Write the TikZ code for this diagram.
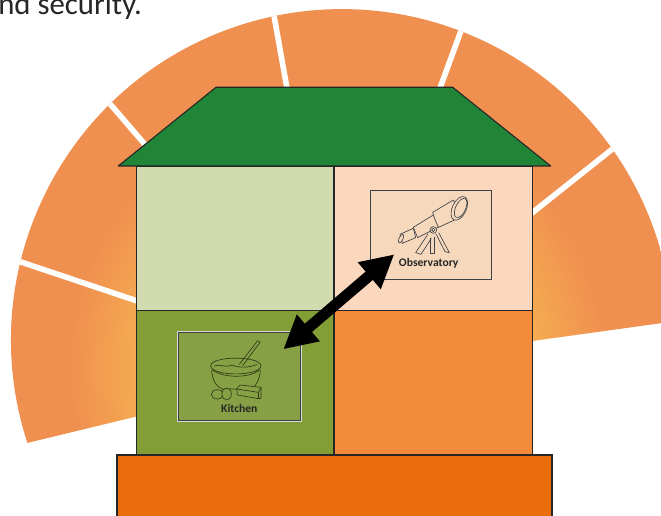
\documentclass[tikz,border=0pt]{standalone}
\usepackage{fontspec}
\setmainfont{Carlito}
\usetikzlibrary{arrows.meta}
\definecolor{fanInner}{HTML}{F5B450}
\definecolor{fanMid}{HTML}{F4AB50}
\definecolor{fanOuter}{HTML}{EF8F50}
\pgfdeclareradialshading{fanShade}{\pgfpoint{0bp}{0bp}}{color(0bp)=(fanInner); color(12.5bp)=(fanMid); color(16.875bp)=(fanOuter); color(50bp)=(fanOuter)}
\tikzset{
  wallLine/.style={draw=black!85,line width=1.1pt},
  gapLine/.style={draw=white,line width=5.6pt},
  iconLine/.style={draw=drawColor,line width=0.65pt,line join=round},
  boxLabel/.style={text=black!85,anchor=base,inner sep=0pt,outer sep=0pt,scale=1.16,font=\bfseries},
  iconBox/.style={inner sep=0pt,outer sep=0pt,anchor=south west}
}
\begin{document}
\begin{tikzpicture}[x=1pt,y=1pt]
\path[use as bounding box,fill=white] (0,0) rectangle (661,515);

\begin{scope}
\path[clip] (0,0) rectangle (661,515);
\node[text=black!85,anchor=base east,inner sep=0pt,outer sep=0pt,scale=3.08] (closingText) at (142,500.5) {nd security.};
\end{scope}

\begin{scope}
\path[clip] (0,0) rectangle (661,515);
\path[clip] (27.4,72.1) arc[start angle=198.1,end angle=3.2,radius=331pt] -- (337,147) -- cycle;
\shade[shading=fanShade] (337,147) circle (400pt);
\coordinate (fanCentre) at (337,147);
\coordinate (gapA) at (15,255);
\coordinate (gapB) at (105,417);
\coordinate (gapC) at (273,505);
\coordinate (gapD) at (465,495);
\coordinate (gapE) at (620,372);
\path[gapLine] (fanCentre) -- (gapA);
\path[gapLine] (fanCentre) -- (gapB);
\path[gapLine] (fanCentre) -- (gapC);
\path[gapLine] (fanCentre) -- (gapD);
\path[gapLine] (fanCentre) -- (gapE);
\end{scope}

% house
\definecolor{fillColor}{HTML}{EB6C0A}
\path[wallLine,fill=fillColor] (117,-5) rectangle (552,60);
\definecolor{fillColor}{HTML}{D2DBB0}
\path[wallLine,fill=fillColor] (136.7,204.3) rectangle (334,349);
\definecolor{fillColor}{HTML}{FBD8BD}
\path[wallLine,fill=fillColor] (334,204.3) rectangle (532.7,349);
\definecolor{fillColor}{HTML}{849E37}
\path[wallLine,fill=fillColor] (136.7,60) rectangle (334,204.3);
\definecolor{fillColor}{HTML}{F48B3A}
\path[wallLine,fill=fillColor] (334,60) rectangle (532.7,204.3);
\definecolor{fillColor}{HTML}{208537}
\path[wallLine,fill=fillColor,line join=round] (118.3,349) -- (216,427.7) -- (452.7,427.7) -- (550.7,349) -- cycle;

% observatory
\definecolor{fillColor}{HTML}{F6D9BC}
\definecolor{drawColor}{HTML}{3C4048}
\node[iconBox,fill=fillColor,draw=drawColor,line width=0.7pt,minimum width=121.7pt,minimum height=88.6pt] (observatoryBox) at (370,235.7) {};
\node[boxLabel] (observatoryLabel) at (428.7,248.3) {Observatory};
\begin{scope}[shift={(350,345)},x=0.3333pt,y=-0.3333pt]
\path[iconLine,fill=fillColor] (150,193) -- (190,175) -- (197,203) -- (157,220) -- cycle;
\path[iconLine,fill=fillColor] (190,172) -- (250,135) -- (268,170) -- (203,203) -- cycle;
\path[iconLine,fill=fillColor] (248,127) -- (310,90) -- (335,140) -- (266,172) .. controls (258,158) and (252,142) .. (248,127) -- cycle;
\path[iconLine,fill=fillColor] (153,206) ellipse[x radius=6,y radius=14,rotate=-25];
\path[iconLine,fill=fillColor] (328,115) ellipse[x radius=21,y radius=38,rotate=-25];
\path[iconLine,fill=fillColor] (332,114) ellipse[x radius=15,y radius=31,rotate=-25];
\path[iconLine] (234,192) -- (197,248) -- (213,253) -- (244,205);
\path[iconLine] (241,205) -- (241,250) -- (252,250) -- (252,202);
\path[iconLine] (258,192) -- (285,245) -- (298,248) -- (266,188);
\path[iconLine,fill=fillColor] (250,180) circle[radius=10];
\path[iconLine] (250,180) circle[radius=5];
\end{scope}

% kitchen
\definecolor{fillColor}{HTML}{87A045}
\definecolor{drawColor}{HTML}{2E3A15}
\node[iconBox,draw=white!85!black,line width=1.5pt,minimum width=123.3pt,minimum height=89.3pt] (kitchenOuter) at (177.7,94) {};
\node[iconBox,fill=fillColor,draw=black!75,line width=0.6pt,minimum width=122.3pt,minimum height=88.3pt] (kitchenBox) at (178.2,94.5) {};
\node[boxLabel] (kitchenLabel) at (239.3,102.5) {Kitchen};
\begin{scope}[shift={(160,200)},x=0.3333pt,y=-0.3333pt]
\path[iconLine] (238,148) -- (293,77) -- (300,82) -- (248,152);
\path[iconLine] (155,165) .. controls (157,195) and (168,215) .. (187,222) -- (275,222) .. controls (290,212) and (300,190) .. (301,165);
\path[iconLine] (152,152) .. controls (155,122) and (300,122) .. (303,152) .. controls (303,185) and (152,185) .. (152,152) -- cycle;
\path[iconLine] (158,165) .. controls (190,190) and (270,190) .. (298,165);
\path[iconLine] (162,153) .. controls (180,145) and (195,160) .. (215,150) .. controls (235,158) and (265,160) .. (292,148);
\path[iconLine,fill=fillColor] (172,238) ellipse[x radius=18,y radius=14];
\path[iconLine,fill=fillColor] (200,237) ellipse[x radius=14,y radius=18];
\path[iconLine,fill=fillColor] (230,222) -- (240,210) -- (303,217) -- (303,250) -- (295,251) -- (232,240) -- cycle;
\path[iconLine] (230,222) -- (295,232) -- (303,217);
\path[iconLine] (295,232) -- (295,251);
\end{scope}

% connection between the rooms
\coordinate (kitchenEnd) at (283.3,165.7);
\coordinate (observatoryEnd) at (394.3,260.7);
\draw[line width=11pt,black,{Triangle[length=33pt,width=33pt]}-{Triangle[length=33pt,width=33pt]}] (kitchenEnd) -- (observatoryEnd);
\end{tikzpicture}
\end{document}
